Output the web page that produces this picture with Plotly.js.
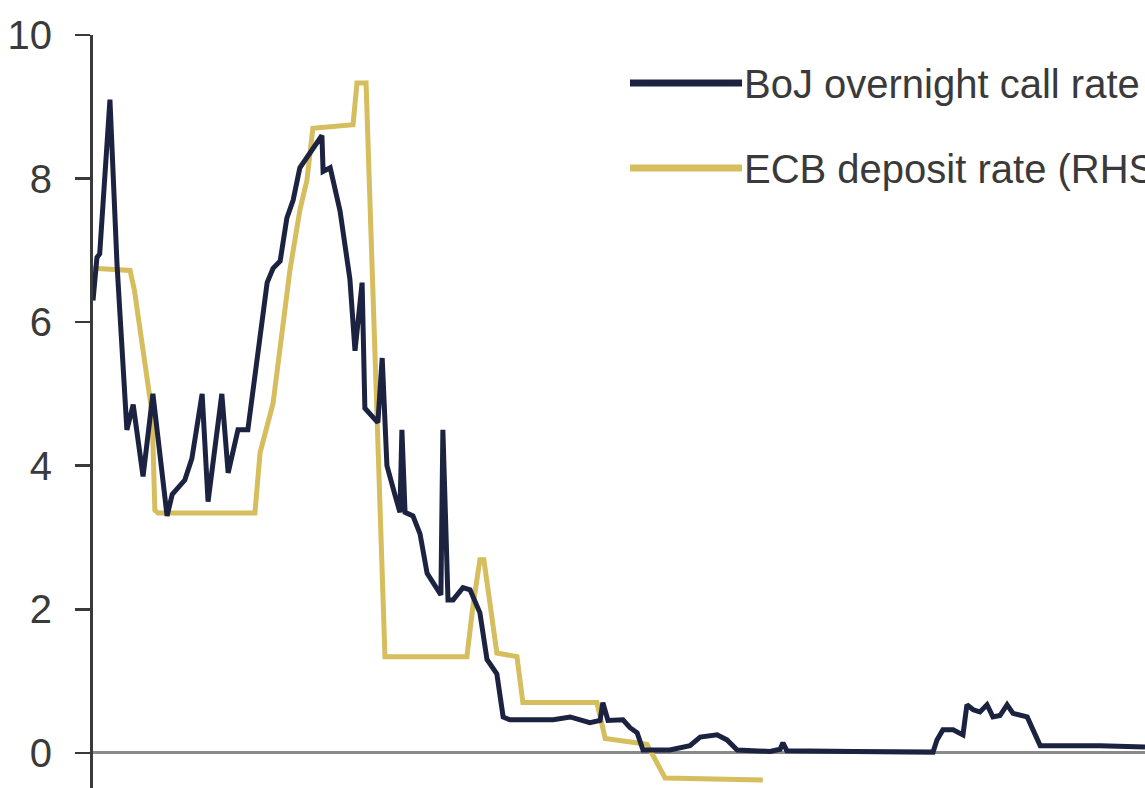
<!DOCTYPE html>
<html>
<head>
<meta charset="utf-8">
<script src="https://cdn.plot.ly/plotly-3.0.1.min.js"></script>
<style>
  html, body { margin: 0; padding: 0; background: #ffffff; }
  #chart { width: 1145px; height: 788px; }
</style>
</head>
<body>
<div id="chart"></div>
<script>
// ---- Data (decimal years, % values) ----
const bojYears = [
  1985.20, 1985.24, 1985.30, 1985.37, 1985.63, 1985.81, 1986.06, 1986.22, 1986.47, 1986.72, 1987.03, 1987.08,
  1987.21, 1987.53, 1987.71, 1987.97, 1988.12, 1988.47, 1988.63, 1988.88, 1989.13, 1989.31,
  1989.49, 1989.62, 1989.77, 1989.95, 1990.12, 1990.28, 1990.45, 1990.71, 1991.01, 1991.04,
  1991.22, 1991.47, 1991.72, 1991.85, 1992.03, 1992.10, 1992.43, 1992.54, 1992.66, 1992.86,
  1992.99, 1993.04, 1993.12, 1993.32, 1993.50, 1993.68, 1993.93, 1994.03, 1994.08, 1994.21,
  1994.34, 1994.59, 1994.77, 1995.02, 1995.20, 1995.45, 1995.61, 1995.78, 1996.88, 1997.31,
  1997.81, 1998.07, 1998.14, 1998.27, 1998.65, 1998.83, 1999.01, 1999.16, 1999.84, 2000.17,
  2000.35, 2000.61, 2001.04, 2001.29, 2001.55, 2002.38, 2002.64, 2002.71, 2002.81, 2004.50,
  2006.52, 2006.62, 2006.77, 2007.03, 2007.28, 2007.38, 2007.54, 2007.71, 2007.89, 2008.04,
  2008.22, 2008.40, 2008.55, 2008.91, 2009.06, 2009.24, 2010.76, 2011.90
];
const bojRate = [
  6.30, 6.50, 6.90, 6.95, 9.10, 6.80, 4.50, 4.85, 3.85, 5.00, 3.40, 3.30,
  3.60, 3.80, 4.10, 5.00, 3.50, 5.00, 3.90, 4.50, 4.50, 5.30,
  6.00, 6.55, 6.75, 6.85, 7.45, 7.70, 8.15, 8.35, 8.60, 8.10,
  8.15, 7.55, 6.60, 5.60, 6.55, 4.80, 4.60, 5.50, 4.00, 3.60,
  3.35, 4.50, 3.35, 3.30, 3.05, 2.50, 2.27, 2.20, 4.50, 2.13,
  2.13, 2.30, 2.27, 1.95, 1.30, 1.10, 0.50, 0.46, 0.46, 0.50,
  0.42, 0.45, 0.70, 0.45, 0.46, 0.35, 0.28, 0.04, 0.04, 0.08,
  0.10, 0.22, 0.25, 0.18, 0.04, 0.02, 0.05, 0.14, 0.03, 0.02,
  0.01, 0.18, 0.32, 0.32, 0.25, 0.67, 0.60, 0.57, 0.67, 0.50,
  0.52, 0.67, 0.55, 0.50, 0.32, 0.10, 0.10, 0.08
];

const ecbYears = [
  1985.20, 1986.14, 1986.25, 1986.52, 1986.70, 1986.77, 1986.85, 1989.31, 1989.44, 1989.77,
  1990.02, 1990.20, 1990.45, 1990.63, 1990.78, 1991.80, 1991.90, 1992.13, 1992.61, 1994.69,
  1994.84, 1995.02, 1995.12, 1995.45, 1995.96, 1996.11, 1997.99, 1998.20, 1999.26, 1999.72,
  2002.20
];
const ecbRate = [
  6.75, 6.72, 6.45, 5.38, 4.73, 3.38, 3.34, 3.34, 4.18, 4.87,
  6.03, 6.73, 7.56, 7.98, 8.70, 8.75, 9.33, 9.33, 1.34, 1.34,
  2.03, 2.69, 2.69, 1.39, 1.34, 0.70, 0.70, 0.20, 0.12, -0.35,
  -0.38
];

const yTicks = [0, 2, 4, 6, 8, 10];
const seriesNames = ["BoJ overnight call rate", "ECB deposit rate (RHS)"];
const seriesColors = ["#1c2340", "#d6bd5e"];

// ---- Traces ----
const traces = [
  {
    x: ecbYears, y: ecbRate, type: "scatter", mode: "lines",
    name: seriesNames[1],
    line: { color: seriesColors[1], width: 5 }
  },
  {
    x: bojYears, y: bojRate, type: "scatter", mode: "lines",
    name: seriesNames[0],
    line: { color: seriesColors[0], width: 5 }
  }
];

// ---- Custom legend (shapes + text) ----
const legendRowsPx = [83, 168];
const legendShapes = seriesNames.map((n, i) => ({
  type: "line", xref: "paper", yref: "paper",
  x0: (630 - 93) / 1052, x1: (742 - 93) / 1052,
  y0: 1 - (legendRowsPx[i] - 35) / 753,
  y1: 1 - (legendRowsPx[i] - 35) / 753,
  line: { color: seriesColors[i], width: 7 }
}));
const legendText = seriesNames.map((n, i) => ({
  xref: "paper", yref: "paper",
  x: (742 - 93) / 1052,
  y: 1 - (legendRowsPx[i] + 1 - 35) / 753,
  xanchor: "left", yanchor: "middle",
  text: n, showarrow: false,
  font: { family: "Liberation Sans, Arial, sans-serif", size: 40, color: "#3a3a3a" }
}));

const layout = {
  width: 1145, height: 788,
  margin: { l: 93, r: 0, t: 35, b: 0, pad: 0 },
  paper_bgcolor: "#ffffff", plot_bgcolor: "#ffffff",
  showlegend: false,
  xaxis: {
    range: [1985.2, 2011.9],
    showgrid: false, zeroline: false, showline: false,
    showticklabels: false, ticks: ""
  },
  yaxis: {
    range: [-0.49, 10],
    tickvals: yTicks,
    ticktext: yTicks.map(String),
    showgrid: false,
    zeroline: true, zerolinecolor: "#8a8a8a", zerolinewidth: 3,
    showline: true, linecolor: "#3a3a3a", linewidth: 3,
    ticks: "outside", ticklen: 15, tickwidth: 2.5, tickcolor: "#3a3a3a",
    ticklabelstandoff: 15,
    tickfont: { family: "Liberation Sans, Arial, sans-serif", size: 40, color: "#3a3a3a" }
  },
  shapes: legendShapes,
  annotations: legendText
};

Plotly.newPlot("chart", traces, layout, { displayModeBar: false, staticPlot: true });
</script>
</body>
</html>
